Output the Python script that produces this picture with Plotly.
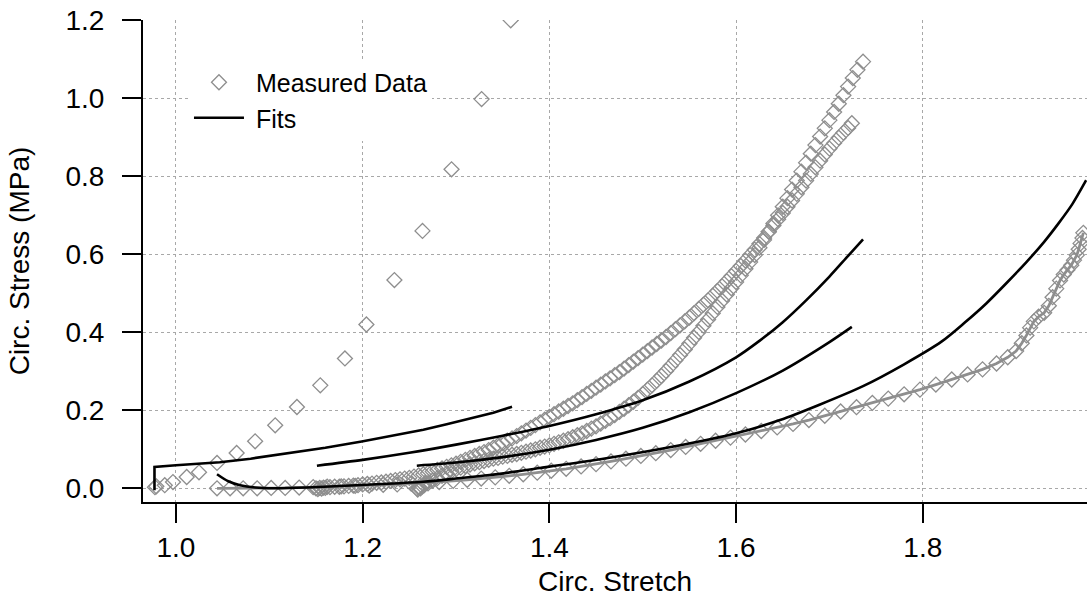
import plotly.graph_objects as go

# ---- Measured data (circumferential stretch vs. stress, MPa) ----
meas_a_x = [0.9775, 0.979, 0.988, 0.9968, 1.0115, 1.0247, 1.044, 1.065, 1.0848, 1.1063,
            1.1296, 1.1546, 1.181, 1.204, 1.234, 1.2641, 1.2952, 1.3274, 1.3586]
meas_a_y = [0.003, 0.005, 0.008, 0.016, 0.029, 0.041, 0.065, 0.0905, 0.1205, 0.1615,
            0.2085, 0.264, 0.333, 0.42, 0.534, 0.66, 0.818, 0.998, 1.2]

meas_b_x = [1.150, 1.152, 1.154, 1.156, 1.158, 1.160, 1.165, 1.170, 1.175, 1.180,
            1.185, 1.190, 1.195, 1.200, 1.205, 1.210, 1.215, 1.220, 1.225, 1.230,
            1.235, 1.240, 1.245, 1.250, 1.255, 1.260, 1.265, 1.270, 1.275, 1.280,
            1.285, 1.290, 1.295, 1.300, 1.305, 1.310, 1.315, 1.320, 1.325, 1.330,
            1.335, 1.340, 1.345, 1.350, 1.355, 1.360, 1.365, 1.370, 1.375, 1.380,
            1.385, 1.390, 1.395, 1.400, 1.405, 1.410, 1.415, 1.420, 1.425, 1.430,
            1.435, 1.440, 1.445, 1.450, 1.455, 1.460, 1.465, 1.470, 1.475, 1.480,
            1.485, 1.490, 1.495, 1.500, 1.505, 1.510, 1.515, 1.520, 1.525, 1.530,
            1.535, 1.540, 1.545, 1.550, 1.555, 1.560, 1.565, 1.570, 1.575, 1.580,
            1.585, 1.590, 1.595, 1.600, 1.605, 1.610, 1.615, 1.620, 1.625, 1.630,
            1.635, 1.640, 1.645, 1.650, 1.655, 1.660, 1.665, 1.670, 1.675, 1.680,
            1.685, 1.690, 1.695, 1.700, 1.705, 1.710, 1.715, 1.720, 1.724]
meas_b_y = [0.000, -0.002, 0.001, -0.001, 0.002, 0.001, 0.003, 0.004, 0.004, 0.005,
            0.006, 0.007, 0.008, 0.010, 0.011, 0.012, 0.014, 0.015, 0.017, 0.019,
            0.021, 0.023, 0.025, 0.027, 0.030, 0.033, 0.036, 0.039, 0.043, 0.047,
            0.051, 0.055, 0.059, 0.063, 0.068, 0.073, 0.078, 0.083, 0.088, 0.093,
            0.098, 0.104, 0.110, 0.116, 0.122, 0.128, 0.134, 0.141, 0.148, 0.155,
            0.162, 0.169, 0.176, 0.183, 0.190, 0.197, 0.204, 0.211, 0.218, 0.226,
            0.234, 0.242, 0.250, 0.258, 0.266, 0.274, 0.282, 0.290, 0.298, 0.307,
            0.316, 0.325, 0.334, 0.343, 0.352, 0.361, 0.370, 0.379, 0.388, 0.398,
            0.408, 0.418, 0.428, 0.438, 0.449, 0.460, 0.471, 0.482, 0.494, 0.506,
            0.518, 0.531, 0.544, 0.557, 0.570, 0.584, 0.598, 0.612, 0.627, 0.642,
            0.658, 0.674, 0.690, 0.706, 0.722, 0.738, 0.755, 0.772, 0.789, 0.806,
            0.823, 0.840, 0.856, 0.871, 0.885, 0.899, 0.912, 0.924, 0.936]

meas_c_x = [1.258, 1.259, 1.260, 1.262, 1.264, 1.266, 1.270, 1.275, 1.280, 1.285,
            1.290, 1.295, 1.300, 1.305, 1.310, 1.315, 1.320, 1.325, 1.330, 1.335,
            1.340, 1.345, 1.350, 1.355, 1.360, 1.365, 1.370, 1.375, 1.380, 1.385,
            1.390, 1.395, 1.400, 1.405, 1.410, 1.415, 1.420, 1.425, 1.430, 1.435,
            1.440, 1.445, 1.450, 1.455, 1.460, 1.465, 1.470, 1.475, 1.480, 1.485,
            1.490, 1.495, 1.500, 1.505, 1.510, 1.515, 1.520, 1.525, 1.530, 1.535,
            1.540, 1.545, 1.550, 1.555, 1.560, 1.565, 1.570, 1.575, 1.580, 1.585,
            1.590, 1.595, 1.600, 1.605, 1.610, 1.615, 1.620, 1.625, 1.630, 1.635,
            1.640, 1.645, 1.650, 1.655, 1.660, 1.665, 1.670, 1.675, 1.680, 1.685,
            1.690, 1.695, 1.700, 1.705, 1.710, 1.715, 1.720, 1.725, 1.730, 1.736]
meas_c_y = [0.000, -0.003, 0.002, 0.000, 0.005, 0.008, 0.013, 0.020, 0.026, 0.032,
            0.038, 0.044, 0.049, 0.053, 0.057, 0.061, 0.064, 0.067, 0.070, 0.073,
            0.076, 0.078, 0.081, 0.083, 0.086, 0.088, 0.091, 0.094, 0.097, 0.100,
            0.104, 0.107, 0.110, 0.114, 0.118, 0.122, 0.126, 0.131, 0.136, 0.141,
            0.147, 0.153, 0.159, 0.166, 0.173, 0.180, 0.188, 0.196, 0.204, 0.213,
            0.222, 0.232, 0.242, 0.253, 0.264, 0.276, 0.288, 0.301, 0.314, 0.328,
            0.342, 0.356, 0.371, 0.386, 0.401, 0.417, 0.433, 0.449, 0.465, 0.481,
            0.497, 0.513, 0.529, 0.546, 0.563, 0.580, 0.598, 0.617, 0.637, 0.658,
            0.679, 0.700, 0.722, 0.744, 0.766, 0.789, 0.812, 0.835, 0.858, 0.880,
            0.902, 0.923, 0.944, 0.965, 0.986, 1.008, 1.030, 1.052, 1.073, 1.094]

meas_d_x = [1.044, 1.058, 1.072, 1.087, 1.102, 1.117, 1.132, 1.147, 1.162, 1.177,
            1.192, 1.207, 1.222, 1.237, 1.252, 1.267, 1.282, 1.297, 1.312, 1.327,
            1.342, 1.357, 1.372, 1.387, 1.402, 1.418, 1.434, 1.450, 1.466, 1.482,
            1.498, 1.514, 1.530, 1.546, 1.562, 1.578, 1.594, 1.610, 1.627, 1.644,
            1.661, 1.678, 1.695, 1.712, 1.729, 1.746, 1.763, 1.780, 1.797, 1.814,
            1.831, 1.848, 1.864, 1.879, 1.891, 1.900, 1.906, 1.911, 1.915, 1.919,
            1.924, 1.930, 1.935, 1.939, 1.943, 1.947, 1.951, 1.955, 1.959, 1.962,
            1.965, 1.967, 1.969, 1.971, 1.972]
meas_d_y = [0.000, 0.000, 0.000, 0.000, 0.001, 0.001, 0.002, 0.003, 0.004, 0.005,
            0.006, 0.007, 0.009, 0.010, 0.012, 0.014, 0.016, 0.019, 0.022, 0.025,
            0.028, 0.032, 0.036, 0.040, 0.045, 0.050, 0.056, 0.062, 0.069, 0.076,
            0.083, 0.090, 0.098, 0.106, 0.114, 0.122, 0.130, 0.138, 0.147, 0.156,
            0.165, 0.175, 0.186, 0.197, 0.208, 0.219, 0.230, 0.241, 0.253, 0.266,
            0.279, 0.292, 0.305, 0.320, 0.336, 0.352, 0.372, 0.392, 0.412, 0.428,
            0.440, 0.450, 0.468, 0.490, 0.512, 0.533, 0.548, 0.560, 0.572, 0.585,
            0.598, 0.613, 0.628, 0.642, 0.655]

# ---- Model fits ----
fit_a_x = [0.977, 0.977, 1.0, 1.047, 1.08, 1.122, 1.16, 1.199, 1.23, 1.265, 1.29, 1.318, 1.34, 1.36]
fit_a_y = [-0.005, 0.055, 0.059, 0.067, 0.076, 0.09, 0.104, 0.12, 0.134, 0.15, 0.164, 0.18, 0.194, 0.209]

fit_b_x = [1.151, 1.20, 1.25, 1.30, 1.35, 1.40, 1.45, 1.50, 1.55, 1.60, 1.625, 1.65,
           1.675, 1.70, 1.72, 1.736]
fit_b_y = [0.058, 0.073, 0.091, 0.112, 0.135, 0.160, 0.190, 0.226, 0.274, 0.336, 0.378, 0.426,
           0.482, 0.543, 0.596, 0.638]

fit_c_x = [1.258, 1.30, 1.35, 1.40, 1.45, 1.50, 1.55, 1.60, 1.65, 1.70, 1.724]
fit_c_y = [0.058, 0.066, 0.080, 0.099, 0.124, 0.155, 0.195, 0.244, 0.302, 0.375, 0.414]

fit_d_x = [1.044, 1.056, 1.0687, 1.085, 1.1045, 1.14, 1.176, 1.22, 1.265, 1.30, 1.336, 1.39,
           1.461, 1.533, 1.60, 1.647, 1.69, 1.736, 1.78, 1.82, 1.845, 1.868, 1.89, 1.911,
           1.93, 1.945, 1.96, 1.975]
fit_d_y = [0.036, 0.018, 0.008, 0.002, 0.0, 0.002, 0.006, 0.011, 0.017, 0.025, 0.034, 0.052,
           0.077, 0.107, 0.141, 0.175, 0.215, 0.262, 0.318, 0.376, 0.425, 0.474, 0.527, 0.580,
           0.632, 0.678, 0.728, 0.790]

x_ticks = [1.0, 1.2, 1.4, 1.6, 1.8]
y_ticks = [0.0, 0.2, 0.4, 0.6, 0.8, 1.0, 1.2]

GRAY = "#8e8e8e"
FONT = "Liberation Sans, Arial, sans-serif"

marker_style = dict(symbol="diamond-open", size=11.5, color=GRAY, line=dict(width=1.3, color=GRAY))

fig = go.Figure()

measured = [
    (meas_a_x, meas_a_y, "markers"),
    (meas_b_x, meas_b_y, "markers"),
    (meas_c_x, meas_c_y, "markers"),
    (meas_d_x, meas_d_y, "lines+markers"),
]
for i, (xs, ys, mode) in enumerate(measured):
    fig.add_trace(go.Scatter(
        x=xs, y=ys, mode=mode, name=" Measured Data",
        legendgroup="meas", showlegend=(i == 0),
        marker=marker_style, line=dict(color=GRAY, width=2.8),
    ))

# the first fit starts with a vertical jump, so it keeps straight segments
fits = [(fit_a_x, fit_a_y, "linear"), (fit_b_x, fit_b_y, "spline"),
        (fit_c_x, fit_c_y, "spline"), (fit_d_x, fit_d_y, "spline")]
for i, (xs, ys, shape) in enumerate(fits):
    fig.add_trace(go.Scatter(
        x=xs, y=ys, mode="lines", name=" Fits",
        legendgroup="fits", showlegend=(i == 0),
        line=dict(color="black", width=2.6, shape=shape, smoothing=0.8),
    ))

axis_common = dict(
    showline=True, linecolor="black", linewidth=2,
    ticks="outside", ticklen=19, tickwidth=2, tickcolor="black",
    showgrid=True, gridcolor="#a8a8a8", gridwidth=1, griddash="3px,3px",
    zeroline=False, mirror=False,
    tickfont=dict(family=FONT, size=28, color="black"),
)

fig.update_xaxes(
    range=[0.9647, 1.9759], tickvals=x_ticks, ticktext=[f"{v:.1f}" for v in x_ticks],
    title=dict(text="Circ. Stretch", font=dict(family=FONT, size=28, color="black"), standoff=10),
    **axis_common,
)
fig.update_yaxes(
    range=[-0.0351, 1.2008], tickvals=y_ticks, ticktext=[f"{v:.1f}" for v in y_ticks],
    title=dict(text="Circ. Stress (MPa)", font=dict(family=FONT, size=28, color="black"), standoff=28),
    ticklabelstandoff=12,
    **axis_common,
)

fig.update_layout(
    width=1087, height=602,
    margin=dict(l=143, r=0, t=20, b=100),
    paper_bgcolor="white", plot_bgcolor="white",
    font=dict(family=FONT, color="black"),
    legend=dict(
        x=0.0487, y=0.918, xanchor="left", yanchor="top",
        bgcolor="white", borderwidth=0,
        font=dict(family=FONT, size=25, color="black"),
        itemwidth=50, tracegroupgap=0,
    ),
)

fig.write_html("out.html")
